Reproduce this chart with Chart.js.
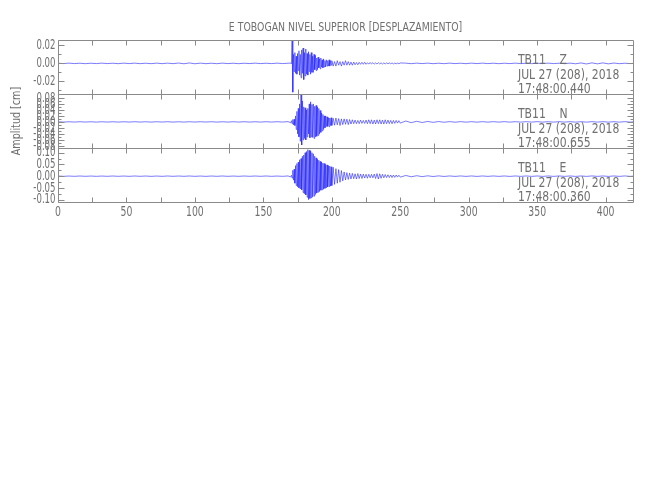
<!DOCTYPE html>
<html>
<head>
<meta charset="utf-8">
<script src="https://cdn.jsdelivr.net/npm/chart.js@4.4.1/dist/chart.umd.min.js"></script>
<style>
  html, body { margin:0; padding:0; background:#fff; }
  #wrap { width:650px; height:500px; }
</style>
</head>
<body>
<div id="wrap"><canvas id="sismo" width="650" height="224"></canvas></div>
<script>
// ejes y textos
const titulo = 'E TOBOGAN NIVEL SUPERIOR [DESPLAZAMIENTO]'
const tituloY = 'Amplitud [cm]'
const ejeX = [0,50,100,150,200,250,300,350,400]
const ejeXMenor = [25,75,125,175,225,275,325,375]
const ejeZ = [-0.02,0,0.02]
const ejeZMenor = [-0.03,-0.01,0.01]
const ejeN = [-0.08,-0.06,-0.04,-0.02,0,0.02,0.04,0.06,0.08]
const ejeNMenor = [-0.07,-0.05,-0.03,-0.01,0.01,0.03,0.05,0.07]
const ejeE = [-0.10,-0.05,0,0.05,0.10]
const ejeEMenor = [-0.075,-0.025,0.025,0.075]
const estaciones = ['TB11    Z','TB11    N','TB11    E']
const fecha = 'JUL 27 (208), 2018'
const horas = ['17:48:00.440','17:48:00.655','17:48:00.360']

// muestreo de cada tramo (inicio, paso en segundos)
const preInicio = 0, prePaso = 4
const fuerteInicio = 170, fuertePaso = 0.5
const codaInicio = 201, codaPaso = 1
const colaInicio = 254, colaPaso = 4

// componente Z (cm)
const zPre = [0.0002,-0.0002,0.0003,-0.0002,0.0002,-0.0003,0.0002,-0.0002,0.0003,-0.0002,
  0.0002,-0.0003,0.0003,-0.0002,0.0003,-0.0003,0.0002,-0.0003,0.0003,-0.0003,
  0.0003,-0.0003,0.0004,-0.0004,0.0005,-0.0004,0.0003,-0.0003,0.0002,-0.0003,
  0.0003,-0.0002,0.0002,-0.0003,0.0002,-0.0002,0.0003,-0.0002,0.0002,-0.0002,
  0.0003,-0.0002,0.0002]
const zFuerte = [0.0004,-0.0005,0.025,-0.032,0.010,-0.009,0.012,-0.011,0.008,-0.012,
  0.011,-0.008,0.014,-0.013,0.010,-0.016,0.015,-0.011,0.017,-0.018,
  0.012,-0.014,0.016,-0.012,0.011,-0.013,0.013,-0.009,0.010,-0.012,
  0.012,-0.010,0.008,-0.010,0.010,-0.007,0.009,-0.008,0.006,-0.007,
  0.007,-0.005,0.005,-0.006,0.006,-0.004,0.004,-0.005,0.005,-0.004,
  0.003,-0.004,0.004,-0.003,0.003,-0.003,0.004,-0.003,0.003,-0.002,
  0.003]
const zCoda = [-0.003,0.002,-0.003,0.003,-0.002,0.002,-0.003,0.002,-0.002,0.003,
  -0.002,0.002,-0.002,0.0015,-0.002,0.0015,-0.0015,0.001,-0.0015,0.0012,
  -0.001,0.0012,-0.001,0.0012,-0.001,0.0008,-0.0008,0.001,-0.0007,0.0008,
  -0.0008,0.0006,-0.0007,0.0008,-0.0006,0.0006,-0.0007,0.0005,-0.0006,0.0006,
  -0.0005,0.0006,-0.0004,0.0005,-0.0006,0.0004,-0.0005,0.0004,-0.0004,0.0005]
const zCola = [0.0003,-0.0003,0.0003,-0.0002,0.0003,-0.0003,0.0002,-0.0003,0.0003,-0.0002,
  0.0002,-0.0003,0.0003,-0.0002,0.0003,-0.0002,0.0002,-0.0003,0.0002,-0.0002,
  0.0003,-0.0002,0.0002,-0.0003,0.0002,-0.0002,0.0003,-0.0002,0.0002,-0.0003,
  0.0003,-0.0004,0.0005,-0.0006,0.0006,-0.0005,0.0006,-0.0005,0.0004,-0.0003,
  0.0002,-0.0002,0.0002]

// componente N (cm)
const nPre = [0.0005,-0.0006,0.0005,-0.0005,0.0006,-0.0005,0.0005,-0.0006,0.0005,-0.0005,
  0.0005,-0.0006,0.0005,-0.0005,0.0006,-0.0005,0.0005,-0.0006,0.0006,-0.0005,
  0.0006,-0.0006,0.0005,-0.0006,0.0006,-0.0005,0.0006,-0.0005,0.0006,-0.0006,
  0.0005,-0.0006,0.0006,-0.0005,0.0006,-0.0006,0.0005,-0.0006,0.0006,-0.0005,
  0.0006,-0.0005,0.001]
const nFuerte = [-0.003,0.004,-0.006,0.008,-0.010,0.009,-0.012,0.020,-0.025,0.035,
  -0.040,0.045,-0.050,0.060,-0.065,0.090,-0.077,0.070,-0.060,0.050,
  -0.055,0.047,-0.060,0.040,-0.050,0.045,-0.040,0.060,-0.053,0.067,
  -0.050,0.058,-0.052,0.060,-0.055,0.052,-0.050,0.055,-0.048,0.050,
  -0.045,0.045,-0.040,0.038,-0.035,0.030,-0.030,0.025,-0.025,0.020,
  -0.020,0.020,-0.016,0.017,-0.015,0.014,-0.016,0.013,-0.012,0.014,
  -0.012]
const nCoda = [0.012,-0.011,0.013,-0.010,0.011,-0.012,0.010,-0.009,0.010,-0.008,
  0.009,-0.009,0.008,-0.007,0.007,-0.006,0.006,-0.006,0.005,-0.006,
  0.006,-0.005,0.005,-0.005,0.006,-0.006,0.007,-0.006,0.007,-0.007,
  0.006,-0.007,0.007,-0.006,0.007,-0.007,0.006,-0.007,0.007,-0.006,
  0.006,-0.006,0.005,-0.006,0.005,-0.005,0.005,-0.004,0.004,-0.004]
const nCola = [0.003,-0.0025,0.002,-0.002,0.0015,-0.0015,0.0012,-0.0012,0.001,-0.001,
  0.0009,-0.0009,0.0008,-0.0009,0.0008,-0.0008,0.0008,-0.0007,0.0008,-0.0008,
  0.0007,-0.0008,0.0008,-0.0007,0.0008,-0.0008,0.0007,-0.0008,0.0008,-0.0007,
  0.0008,-0.0008,0.0007,-0.0008,0.0008,-0.0007,0.0008,-0.0008,0.0007,-0.0008,
  0.0008,-0.0007,0.0008]

// componente E (cm)
const ePre = [0.0006,-0.0007,0.0006,-0.0006,0.0007,-0.0006,0.0006,-0.0007,0.0006,-0.0006,
  0.0007,-0.0006,0.0006,-0.0007,0.0008,-0.0006,0.0007,-0.0008,0.0006,-0.0007,
  0.0008,-0.0006,0.0007,-0.0006,0.0008,-0.0007,0.0006,-0.0008,0.0007,-0.0006,
  0.0008,-0.0007,0.0006,-0.0007,0.0008,-0.0006,0.0007,-0.0006,0.0008,-0.0007,
  0.0006,-0.0007,0.001]
const eFuerte = [-0.003,0.004,-0.008,0.025,-0.017,0.030,-0.030,0.045,-0.040,0.054,
  -0.045,0.060,-0.050,0.070,-0.055,0.075,-0.058,0.085,-0.070,0.090,
  -0.075,0.100,-0.080,0.105,-0.090,0.113,-0.100,0.110,-0.095,0.108,
  -0.092,0.100,-0.088,0.095,-0.085,0.085,-0.078,0.078,-0.072,0.072,
  -0.068,0.068,-0.065,0.063,-0.060,0.060,-0.058,0.056,-0.055,0.054,
  -0.052,0.050,-0.050,0.048,-0.046,0.045,-0.044,0.043,-0.042,0.040,
  -0.040]
const eCoda = [0.038,-0.035,0.032,-0.030,0.028,-0.026,0.024,-0.020,0.018,-0.016,
  0.015,-0.014,0.013,-0.012,0.012,-0.011,0.010,-0.012,0.011,-0.010,
  0.009,-0.010,0.009,-0.008,0.008,-0.009,0.008,-0.007,0.008,-0.007,
  0.009,-0.010,0.011,-0.012,0.010,-0.009,0.008,-0.007,0.007,-0.006,
  0.006,-0.006,0.005,-0.006,0.005,-0.005,0.005,-0.004,0.004,-0.004]
const eCola = [0.003,-0.0025,0.002,-0.002,0.0016,-0.0015,0.0013,-0.0012,0.001,-0.001,
  0.001,-0.0009,0.0009,-0.001,0.0009,-0.0009,0.001,-0.0009,0.0009,-0.001,
  0.0009,-0.0009,0.001,-0.0009,0.0009,-0.001,0.0009,-0.0009,0.001,-0.0009,
  0.0009,-0.001,0.0009,-0.0009,0.001,-0.0009,0.0009,-0.001,0.0009,-0.0009,
  0.001,-0.0009,0.0009]

const fuente = "'DejaVu Sans Condensed','DejaVu Sans',sans-serif"
const gris = '#707070'
const azul = 'rgb(35,35,255)'

function traza(pre,fuerte,coda,cola){
    let puntos=[]
    pre.forEach((v,i)=>puntos.push({x:preInicio+i*prePaso,y:v}))
    fuerte.forEach((v,i)=>puntos.push({x:fuerteInicio+i*fuertePaso,y:v}))
    coda.forEach((v,i)=>puntos.push({x:codaInicio+i*codaPaso,y:v}))
    cola.forEach((v,i)=>puntos.push({x:colaInicio+i*colaPaso,y:v}))
    return puntos
}

// texto angosto (la fuente del original es muy estrecha)
function texto(ctx,str,x,y,align,size,sx,rot){
    ctx.save()
    ctx.translate(x,y)
    if(rot) ctx.rotate(rot)
    ctx.scale(sx,1)
    ctx.font = size+'px '+fuente
    ctx.fillStyle = gris
    ctx.textAlign = align
    ctx.textBaseline = 'middle'
    ctx.fillText(str,0,0)
    ctx.restore()
}

const paneles = [
    {id:'yZ', ticks:ejeZ, menor:ejeZMenor},
    {id:'yN', ticks:ejeN, menor:ejeNMenor},
    {id:'yE', ticks:ejeE, menor:ejeEMenor}
]

// marco tipo IDL: caja, ticks hacia adentro y textos de cada estacion
const marco = {
    id:'marco',
    afterDraw(chart){
        const ctx = chart.ctx
        const x = chart.scales.x
        const area = chart.chartArea
        const left = Math.round(area.left)+0.5
        const right = Math.round(area.right)+0.5
        ctx.save()
        ctx.strokeStyle = '#8a8a8a'
        ctx.lineWidth = 1
        paneles.forEach((p,k)=>{
            const y = chart.scales[p.id]
            const top = Math.round(y.top)+0.5
            const bottom = Math.round(y.bottom)+0.5
            ctx.beginPath()
            ctx.rect(left, top, right-left, bottom-top)
            ejeX.concat(ejeXMenor).forEach(v=>{
                const px = Math.round(x.getPixelForValue(v))+0.5
                ctx.moveTo(px, top); ctx.lineTo(px, top+5)
                ctx.moveTo(px, bottom); ctx.lineTo(px, bottom-5)
            })
            p.ticks.forEach(v=>{
                const py = Math.round(y.getPixelForValue(v))+0.5
                ctx.moveTo(left, py); ctx.lineTo(left+6, py)
                ctx.moveTo(right, py); ctx.lineTo(right-6, py)
            })
            p.menor.forEach(v=>{
                const py = Math.round(y.getPixelForValue(v))+0.5
                ctx.moveTo(left, py); ctx.lineTo(left+3, py)
                ctx.moveTo(right, py); ctx.lineTo(right-3, py)
            })
            ctx.stroke()

            // etiquetas del eje y
            p.ticks.forEach(v=>{
                texto(ctx, v.toFixed(2), left-3, y.getPixelForValue(v), 'right', 14, 0.68)
            })

            const tx = x.getPixelForValue(336)
            texto(ctx, estaciones[k], tx, y.top+20, 'left', 14, 0.86)
            texto(ctx, fecha, tx, y.top+35, 'left', 14, 0.86)
            texto(ctx, horas[k], tx, y.top+49, 'left', 14, 0.86)
        })
        // etiquetas del eje x
        ejeX.forEach(v=>{
            texto(ctx, String(v), x.getPixelForValue(v), x.top+10, 'center', 14, 0.74)
        })
        texto(ctx, titulo, (area.left+area.right)/2, 28, 'center', 13, 0.8)
        const yN = chart.scales.yN
        texto(ctx, tituloY, 17, (yN.top+yN.bottom)/2, 'center', 13, 0.82, -Math.PI/2)
        ctx.restore()
    }
}

function ejeY(min,max){
    return {
        type:'linear',
        position:'left',
        stack:'sismo',
        stackWeight:1,
        min:min,
        max:max,
        grid:{display:false},
        border:{display:false},
        ticks:{display:false},
        afterFit: s => { s.width = 58 }
    }
}

Chart.defaults.font.family = fuente

new Chart(document.getElementById('sismo'), {
    type:'line',
    data:{
        datasets:[
            {label:'Z', data:traza(zPre,zFuerte,zCoda,zCola), yAxisID:'yZ', borderColor:azul, borderWidth:0.6, pointRadius:0, tension:0},
            {label:'N', data:traza(nPre,nFuerte,nCoda,nCola), yAxisID:'yN', borderColor:azul, borderWidth:0.6, pointRadius:0, tension:0},
            {label:'E', data:traza(ePre,eFuerte,eCoda,eCola), yAxisID:'yE', borderColor:azul, borderWidth:0.6, pointRadius:0, tension:0}
        ]
    },
    options:{
        responsive:false,
        animation:false,
        layout:{padding:{top:40, right:17, left:0, bottom:0}},
        plugins:{legend:{display:false}, tooltip:{enabled:false}, title:{display:false}},
        scales:{
            x:{
                type:'linear',
                min:0,
                max:420,
                grid:{display:false},
                border:{display:false},
                ticks:{display:false},
                afterFit: s => { s.height = 22 }
            },
            yE: ejeY(-0.11,0.12),
            yN: ejeY(-0.087,0.093),
            yZ: ejeY(-0.034,0.026)
        }
    },
    plugins:[marco]
});
</script>
</body>
</html>
